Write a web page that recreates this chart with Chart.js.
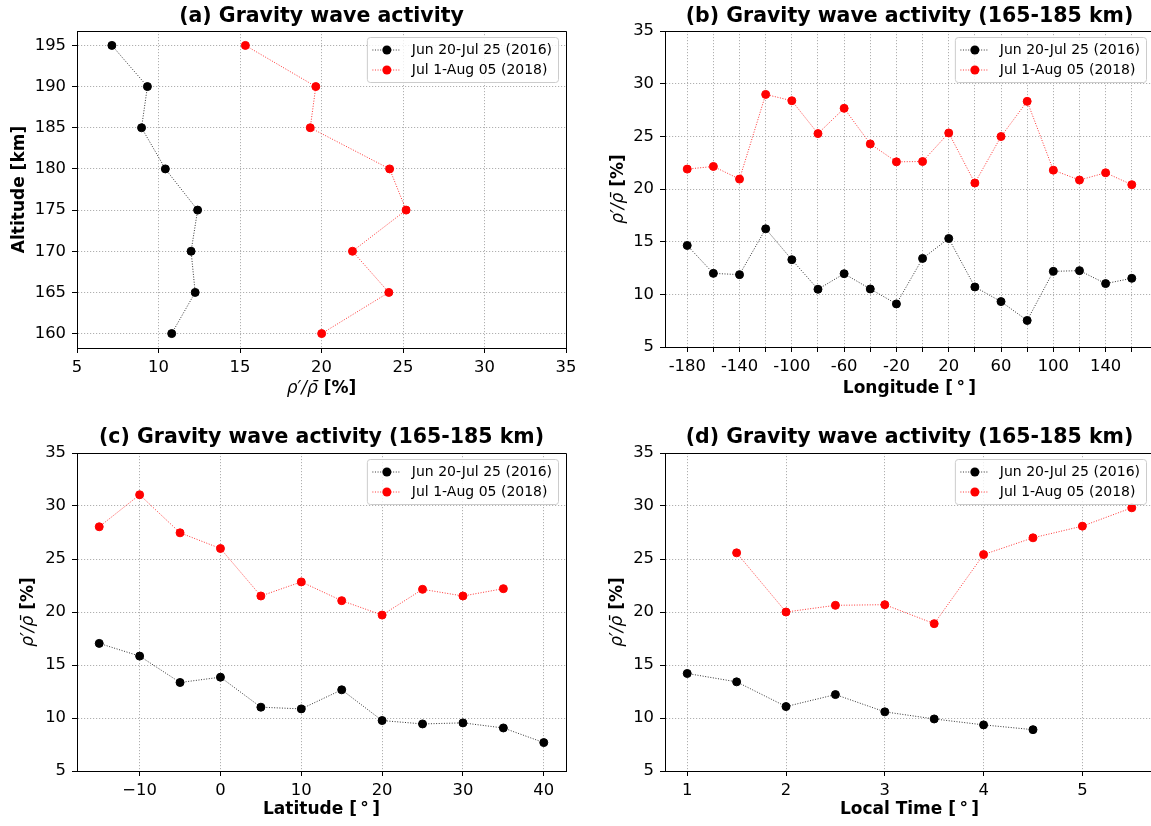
<!DOCTYPE html>
<html>
<head>
<meta charset="utf-8">
<title>Gravity wave activity</title>
<script src="https://cdn.jsdelivr.net/npm/chart.js@4.4.1/dist/chart.umd.min.js"></script>
<style>
  html, body { margin: 0; padding: 0; background: #fff; overflow: hidden; }
  body { width: 1151px; height: 826px; position: relative; }
  .panel { position: absolute; }
  .panel canvas { display: block; }
</style>
</head>
<body>
<div class="panel" style="left:0;top:0"><canvas id="chartA" width="575" height="410"></canvas></div>
<div class="panel" style="left:575px;top:0"><canvas id="chartB" width="585" height="410"></canvas></div>
<div class="panel" style="left:0;top:410px"><canvas id="chartC" width="575" height="416"></canvas></div>
<div class="panel" style="left:575px;top:410px"><canvas id="chartD" width="585" height="416"></canvas></div>
<script>
// ======== Data ========
const seriesLabels = ['Jun 20-Jul 25 (2016)', 'Jul 1-Aug 05 (2018)'];

// (a) altitude profile
const altitudes = [160, 165, 170, 175, 180, 185, 190, 195];
const altWave2016 = [10.81, 12.25, 12.0, 12.40, 10.42, 8.96, 9.32, 7.14];
const altWave2018 = [20.01, 24.13, 21.90, 25.19, 24.18, 19.31, 19.65, 15.33];

// (b) longitude
const longitudes = [-180, -160, -140, -120, -100, -80, -60, -40, -20, 0, 20, 40, 60, 80, 100, 120, 140, 160];
const lonWave2016 = [14.64, 11.99, 11.87, 16.22, 13.29, 10.48, 11.96, 10.51, 9.09, 13.41, 15.30, 10.70, 9.31, 7.52, 12.18, 12.25, 11.02, 11.52];
const lonWave2018 = [21.89, 22.14, 20.94, 28.98, 28.38, 25.26, 27.66, 24.28, 22.58, 22.61, 25.32, 20.57, 24.98, 28.32, 21.79, 20.85, 21.54, 20.41];

// (c) latitude
const latitudes2016 = [-15, -10, -5, 0, 5, 10, 15, 20, 25, 30, 35, 40];
const latWave2016 = [17.04, 15.84, 13.35, 13.85, 11.02, 10.86, 12.66, 9.76, 9.44, 9.54, 9.06, 7.68];
const latitudes2018 = [-15, -10, -5, 0, 5, 10, 15, 20, 25, 30, 35];
const latWave2018 = [28.04, 31.06, 27.47, 25.99, 21.51, 22.84, 21.07, 19.71, 22.14, 21.51, 22.20];

// (d) local time
const localTimes2016 = [1, 1.5, 2, 2.5, 3, 3.5, 4, 4.5];
const ltWave2016 = [14.20, 13.41, 11.08, 12.21, 10.58, 9.91, 9.35, 8.90];
const localTimes2018 = [1.5, 2, 2.5, 3, 3.5, 4, 4.5, 5, 5.5];
const ltWave2018 = [25.58, 20.0, 20.63, 20.69, 18.90, 25.42, 27.0, 28.10, 29.83];

// ======== Tick values / labels ========
const pctTicks = [5, 10, 15, 20, 25, 30, 35];
const altTicks = [160, 165, 170, 175, 180, 185, 190, 195];
const lonTicks = [-180, -160, -140, -120, -100, -80, -60, -40, -20, 0, 20, 40, 60, 80, 100, 120, 140, 160];
const lonTickLabels = [-180, -140, -100, -60, -20, 20, 60, 100, 140];
const latTicks = [-10, 0, 10, 20, 30, 40];
const ltTicks = [1, 2, 3, 4, 5];

// rho'/rho-bar label: math part in oblique, unit part bold
const rhoParts = [
  { text: 'ρ′/ρ\u0304', font: 'oblique 17px "DejaVu Sans"' },
  { text: ' [%]', font: 'bold 17px "DejaVu Sans"' }
];

// ======== Defaults ========
Chart.defaults.font.family = 'DejaVu Sans';
Chart.defaults.color = '#000';
Chart.defaults.animation = false;

// draw a label made of differently styled runs, centred at (cx, cy)
function drawRuns(ctx, parts, cx, cy, rotate) {
  ctx.save();
  ctx.translate(cx, cy);
  if (rotate) ctx.rotate(-Math.PI / 2);
  ctx.textBaseline = 'middle';
  ctx.textAlign = 'left';
  ctx.fillStyle = '#000';
  const widths = parts.map(p => { ctx.font = p.font; return ctx.measureText(p.text).width; });
  let x = -widths.reduce((s, w) => s + w, 0) / 2;
  parts.forEach((p, i) => {
    ctx.font = p.font;
    ctx.fillText(p.text, x, 0);
    x += widths[i];
  });
  ctx.restore();
}

// top/right spines, rho label, matplotlib style legend
const framePlugin = {
  id: 'frame',
  afterDraw(chart, args, opts) {
    const { ctx, chartArea: a } = chart;
    ctx.save();
    ctx.strokeStyle = '#000';
    ctx.lineWidth = 1;
    ctx.setLineDash([]);
    ctx.beginPath();
    ctx.moveTo(Math.floor(a.left) + 0.5, Math.floor(a.top) + 0.5);
    ctx.lineTo(Math.floor(a.right) + 0.5, Math.floor(a.top) + 0.5);
    ctx.lineTo(Math.floor(a.right) + 0.5, Math.floor(a.bottom) + 0.5);
    ctx.stroke();

    if (opts.rhoAxis === 'x') {
      drawRuns(ctx, rhoParts, (a.left + a.right) / 2, chart.height - opts.rhoOffset, false);
    } else if (opts.rhoAxis === 'y') {
      drawRuns(ctx, rhoParts, opts.rhoOffset, (a.top + a.bottom) / 2, true);
    }

    ctx.font = '14px "DejaVu Sans"';
    const sets = chart.data.datasets;
    const textW = Math.max(...sets.map(d => ctx.measureText(d.label).width));
    const w = textW + 51, h = 45;
    const x = a.right - 7.5 - w, y = a.top + 6.5;
    ctx.beginPath();
    ctx.roundRect(x, y, w, h, 3);
    ctx.fillStyle = 'rgba(255,255,255,0.8)';
    ctx.fill();
    ctx.strokeStyle = '#cccccc';
    ctx.stroke();
    sets.forEach((d, i) => {
      const cy = y + 12.5 + i * 20;
      ctx.strokeStyle = d.borderColor;
      ctx.lineWidth = d.borderWidth;
      ctx.setLineDash(d.borderDash);
      ctx.beginPath();
      ctx.moveTo(x + 5, cy);
      ctx.lineTo(x + 33.5, cy);
      ctx.stroke();
      ctx.setLineDash([]);
      ctx.beginPath();
      ctx.arc(x + 19.5, cy, 4.5, 0, Math.PI * 2);
      ctx.fillStyle = d.pointBackgroundColor;
      ctx.fill();
      ctx.fillStyle = '#000';
      ctx.textBaseline = 'middle';
      ctx.textAlign = 'left';
      ctx.fillText(d.label, x + 44.5, cy);
    });
    ctx.restore();
  }
};

function series(label, color, xs, ys) {
  return {
    label: label,
    data: xs.map((v, i) => ({ x: v, y: ys[i] })),
    showLine: true,
    borderColor: color,
    borderWidth: 0.8,
    borderDash: [1, 1.6],
    pointRadius: 4,
    pointBorderWidth: 1,
    pointBackgroundColor: color,
    pointBorderColor: color,
    pointHoverRadius: 4
  };
}

function axis(o) {
  const horizontal = o.position === 'bottom';
  return {
    type: 'linear',
    position: o.position,
    min: o.min,
    max: o.max,
    afterBuildTicks: s => { s.ticks = o.ticks.map(v => ({ value: v })); },
    grid: { color: '#b0b0b0', lineWidth: 1, tickLength: 5, tickColor: '#000', tickWidth: 1 },
    border: { display: true, color: '#000', width: 1, dash: [1.2, 1.8] },
    ticks: {
      autoSkip: false, maxRotation: 0, minRotation: 0, padding: horizontal ? 5 : 6,
      font: { size: 16.4 }, color: '#000',
      callback: o.format || (v => String(v))
    },
    title: {
      display: !!o.title, text: o.title || '', color: '#000',
      font: { size: 17, weight: 'bold' },
      padding: horizontal ? { top: 0, bottom: o.titlePad || 0 } : { top: o.titlePad || 0, bottom: 0 }
    },
    afterFit: s => {
      if (horizontal) { s.height = o.size; s.paddingLeft = 0; s.paddingRight = 0; }
      else { s.width = o.size; s.paddingTop = 0; s.paddingBottom = 0; }
    }
  };
}

function makeChart(id, cfg) {
  return new Chart(document.getElementById(id), {
    type: 'scatter',
    data: { datasets: cfg.datasets },
    options: {
      responsive: false,
      devicePixelRatio: 1,
      layout: { padding: { left: 0, right: cfg.rightPad, top: 0, bottom: 0 } },
      plugins: {
        legend: { display: false },
        tooltip: { enabled: false },
        title: {
          display: true, text: cfg.title, fullSize: false, color: '#000',
          font: { size: 20.5, weight: 'bold' },
          padding: cfg.titlePad
        },
        frame: cfg.frame
      },
      scales: { x: cfg.x, y: cfg.y }
    },
    plugins: [framePlugin]
  });
}

// ======== (a) Altitude ========
makeChart('chartA', {
  title: '(a) Gravity wave activity',
  titlePad: { top: 3.9, bottom: 2.5 },
  rightPad: 9,
  frame: { rhoAxis: 'x', rhoOffset: 21 },
  datasets: [
    series(seriesLabels[0], '#000000', altWave2016, altitudes),
    series(seriesLabels[1], '#ff0000', altWave2018, altitudes)
  ],
  x: axis({ position: 'bottom', min: 5, max: 35, ticks: pctTicks, size: 62 }),
  y: axis({ position: 'left', min: 158.25, max: 196.75, ticks: altTicks, title: 'Altitude [km]', titlePad: 9.1, size: 77 })
});

// ======== (b) Longitude ========
makeChart('chartB', {
  title: '(b) Gravity wave activity (165-185 km)',
  titlePad: { top: 3.9, bottom: 2.5 },
  rightPad: 6,
  frame: { rhoAxis: 'y', rhoOffset: 43.6 },
  datasets: [
    series(seriesLabels[0], '#000000', longitudes, lonWave2016),
    series(seriesLabels[1], '#ff0000', longitudes, lonWave2018)
  ],
  x: axis({ position: 'bottom', min: -197, max: 177, ticks: lonTicks, title: 'Longitude [\u2009°\u2009]', titlePad: 10.8, size: 63,
            format: v => (lonTickLabels.includes(v) ? String(v) : '') }),
  y: axis({ position: 'left', min: 5, max: 35, ticks: pctTicks, size: 90 })
});

// ======== (c) Latitude ========
makeChart('chartC', {
  title: '(c) Gravity wave activity (165-185 km)',
  titlePad: { top: 14.9, bottom: 3.5 },
  rightPad: 9,
  frame: { rhoAxis: 'y', rhoOffset: 28.4 },
  datasets: [
    series(seriesLabels[0], '#000000', latitudes2016, latWave2016),
    series(seriesLabels[1], '#ff0000', latitudes2018, latWave2018)
  ],
  x: axis({ position: 'bottom', min: -17.75, max: 42.75, ticks: latTicks, title: 'Latitude [\u2009°\u2009]', titlePad: 5.8, size: 55,
            format: v => String(v).replace('-', '\u2212') }),
  y: axis({ position: 'left', min: 5, max: 35, ticks: pctTicks, size: 77 })
});

// ======== (d) Local time ========
makeChart('chartD', {
  title: '(d) Gravity wave activity (165-185 km)',
  titlePad: { top: 14.9, bottom: 3.5 },
  rightPad: 6,
  frame: { rhoAxis: 'y', rhoOffset: 42.7 },
  datasets: [
    series(seriesLabels[0], '#000000', localTimes2016, ltWave2016),
    series(seriesLabels[1], '#ff0000', localTimes2018, ltWave2018)
  ],
  x: axis({ position: 'bottom', min: 0.775, max: 5.725, ticks: ltTicks, title: 'Local Time [\u2009°\u2009]', titlePad: 5.8, size: 55 }),
  y: axis({ position: 'left', min: 5, max: 35, ticks: pctTicks, size: 90 })
});
</script>
</body>
</html>
